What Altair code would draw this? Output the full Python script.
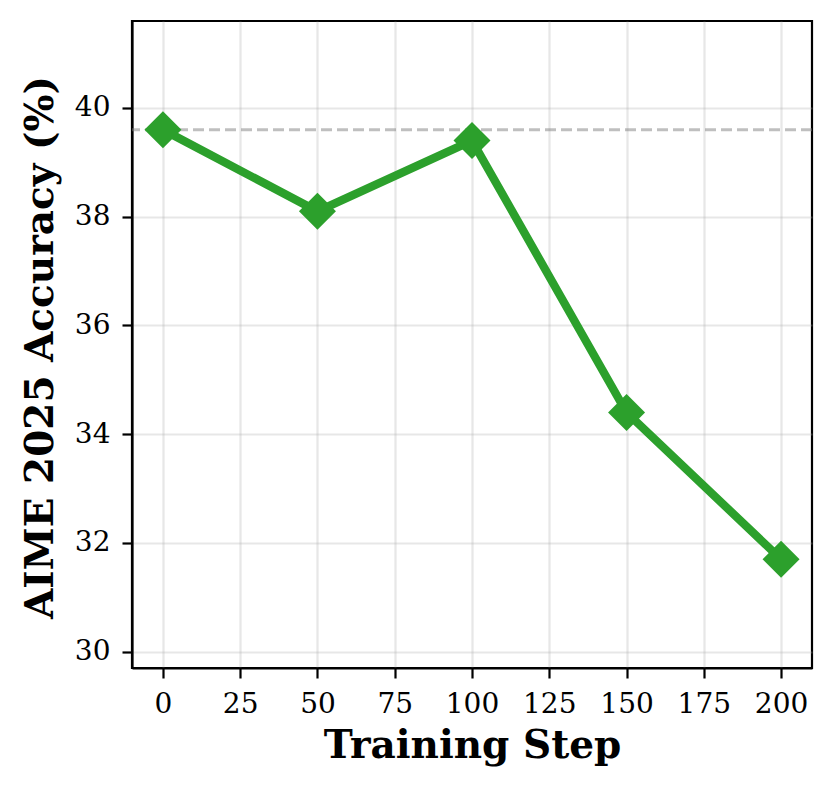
import altair as alt
import pandas as pd

steps = [0, 50, 100, 150, 200]
accuracy = [39.6, 38.1, 39.4, 34.4, 31.7]
baseline = [39.6]
x_ticks = [0, 25, 50, 75, 100, 125, 150, 175, 200]
y_ticks = [30, 32, 34, 36, 38, 40]

df = pd.DataFrame({"step": steps, "acc": accuracy})
base_df = pd.DataFrame({"b": baseline})

FONT = "DejaVu Serif"
GREEN = "#2ca02c"

x_enc = alt.X(
    "step:Q",
    scale=alt.Scale(domain=[-10, 210], nice=False, zero=False),
    axis=alt.Axis(
        values=x_ticks,
        format="d",
        title="Training Step",
        titleX=340,
        titleY=89,
        titleFontSize=39,
        titleAlign="center",
        titleBaseline="alphabetic",
        labelBaseline="alphabetic",
        labelPadding=34,
    ),
)
y_enc = alt.Y(
    "acc:Q",
    scale=alt.Scale(domain=[29.7, 41.6], nice=False, zero=False),
    axis=alt.Axis(
        values=y_ticks,
        format="d",
        title="AIME 2025 Accuracy (%)",
        titleX=-80,
        titleY=326,
        titleFontSize=39,
        titleAngle=270,
        titleAlign="center",
        titleBaseline="alphabetic",
        labelPadding=12,
    ),
)

rule = alt.Chart(base_df).mark_rule(
    color="#808080", opacity=0.5, strokeWidth=2.8, strokeDash=[11, 5]
).encode(y=alt.Y("b:Q"))

line = alt.Chart(df).mark_line(color=GREEN, strokeWidth=8.3).encode(x=x_enc, y=y_enc)

points = alt.Chart(df).mark_point(
    shape="diamond", filled=True, color=GREEN, opacity=1, size=1369
).encode(x="step:Q", y="acc:Q")

chart = (
    alt.layer(rule, line, points)
    .properties(
        width=680,
        height=647,
        autosize=alt.AutoSizeParams(type="none"),
        padding={"left": 124, "top": 13, "right": 16, "bottom": 110},
    )
    .configure_view(stroke="black", strokeWidth=2.2)
    .configure_axis(
        labelFont=FONT,
        labelFontSize=28,
        labelColor="black",
        titleFont=FONT,
        titleFontWeight="bold",
        titleColor="black",
        domainColor="black",
        domainWidth=2.2,
        tickColor="black",
        tickWidth=2.2,
        tickSize=10,
        grid=True,
        gridColor="#b0b0b0",
        gridOpacity=0.3,
        gridWidth=2.2,
    )
)

chart.save("out.html", embed_options={"renderer": "svg", "actions": False})
